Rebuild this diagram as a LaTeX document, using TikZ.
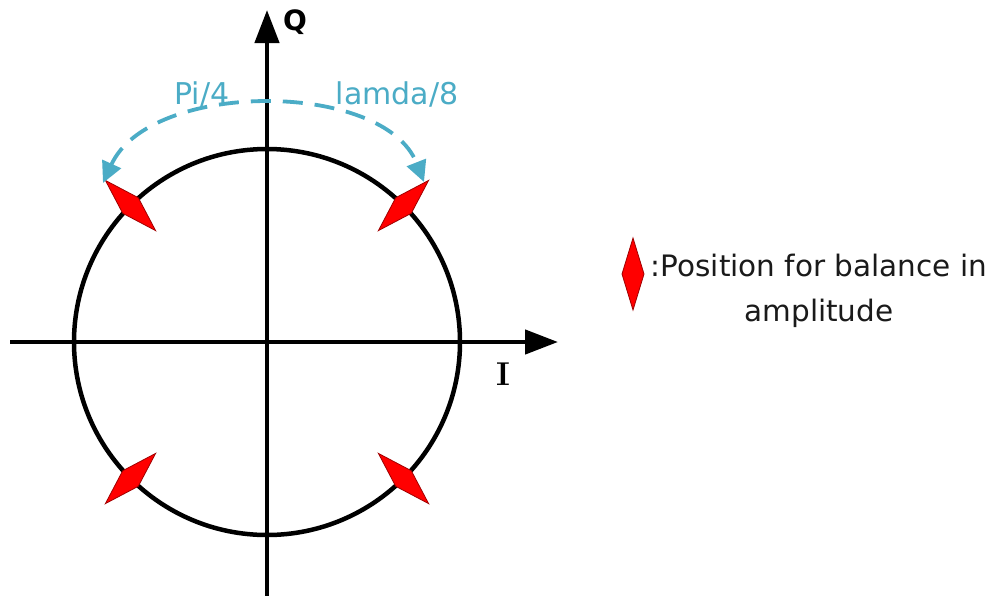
\documentclass[tikz,border=0pt]{standalone}
\usepackage{fontspec}
\newfontfamily\dv{DejaVu Sans}
\usetikzlibrary{arrows.meta}
\definecolor{arcblue}{HTML}{4BACC6}
\definecolor{mred}{HTML}{FF0000}
\definecolor{mdark}{HTML}{A00000}
\definecolor{txt}{HTML}{1A1A1A}
\tikzset{
  axis/.style={line width=4.5pt,-{Triangle[length=33pt,width=24pt]}},
  ring/.style={line width=4.5pt},
  arcarrow/.style={arcblue,line width=3.8pt,dash pattern=on 20pt off 12pt,
    {Triangle[length=21pt,width=20pt]}-{Triangle[length=21pt,width=20pt]}},
  bluelbl/.style={text=arcblue,font=\dv\fontsize{30}{32}\selectfont,inner sep=0pt,anchor=base},
  markerstyle/.style={fill=mred,draw=mdark,line width=0.8pt},
}
\begin{document}
\begin{tikzpicture}[x=1pt,y=-1pt]
\useasboundingbox[fill=white] (0,0) rectangle (1000,595);
\coordinate (O) at (267,342);
\coordinate (Ileft) at (10,342);
\coordinate (Iright) at (558,342);
\coordinate (Qbot) at (267,600);
\coordinate (Qtop) at (267,10);
\draw[axis] (Ileft) -- (Iright);
\draw[axis] (Qbot) -- (Qtop);
\draw[ring] (O) circle[radius=193pt];
% markers on the circle (long axis radial)
\draw[markerstyle,shift={(403.5,205.5)}] (25.1,-25.1) -- (7.78,7.78) -- (-25.1,25.1) -- (-7.78,-7.78) -- cycle;
\draw[markerstyle,shift={(130.5,205.5)}] (-25.1,-25.1) -- (7.78,-7.78) -- (25.1,25.1) -- (-7.78,7.78) -- cycle;
\draw[markerstyle,shift={(130.5,478.5)}] (25.1,-25.1) -- (7.78,7.78) -- (-25.1,25.1) -- (-7.78,-7.78) -- cycle;
\draw[markerstyle,shift={(403.5,478.5)}] (-25.1,-25.1) -- (7.78,-7.78) -- (25.1,25.1) -- (-7.78,7.78) -- cycle;
\coordinate (aL) at (103,183);
\coordinate (aR) at (424,182);
\draw[arcarrow] (aL) .. controls (150,80) and (384,80) .. (aR);
\node[bluelbl] (pi4) at (202,104) {Pi/4};
\node[bluelbl] (lamda) at (397,104) {lamda/8};
\node[font=\dv\bfseries\fontsize{28}{30}\selectfont,inner sep=0pt,anchor=base] (Q) at (295,30) {Q};
\node[font=\bfseries\fontsize{33}{35}\selectfont,inner sep=0pt,anchor=base] (I) at (503,385) {I};
% legend marker
\draw[markerstyle,shift={(633,274)}] (0,-36) -- (11,0) -- (0,36) -- (-11,0) -- cycle;
\node[text=txt,font=\dv\fontsize{29.5}{45}\selectfont,align=center,inner sep=0pt,anchor=base] (leg) at (819,321) {:Position for balance in\\amplitude};
\end{tikzpicture}
\end{document}
